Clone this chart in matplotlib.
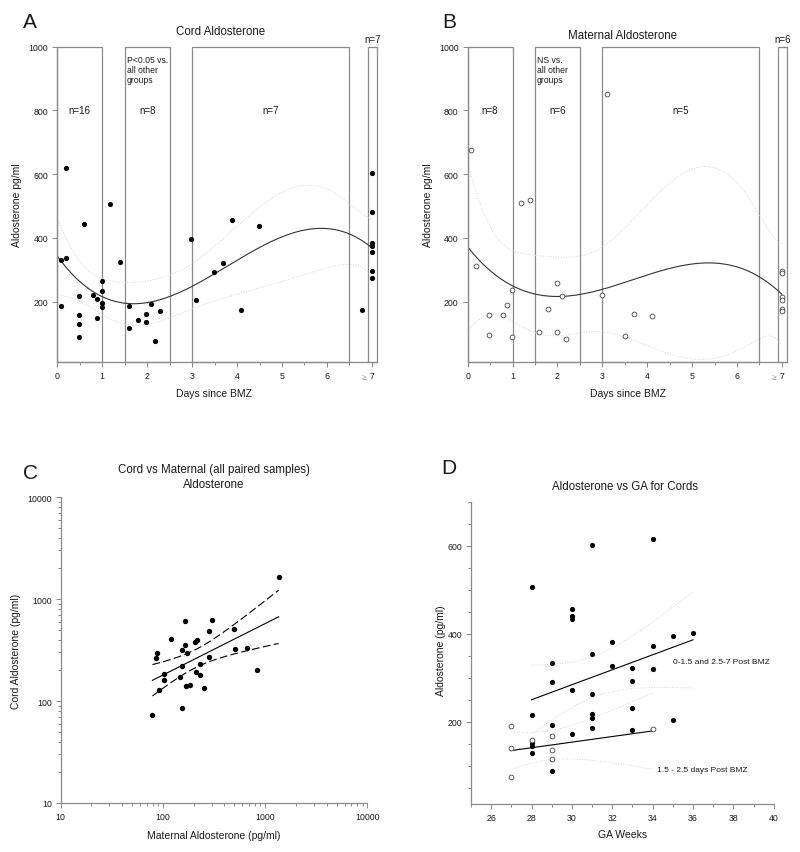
import numpy as np
import matplotlib
matplotlib.use("Agg")
import matplotlib.pyplot as plt
from matplotlib.patches import Rectangle
from matplotlib.ticker import MultipleLocator, LogLocator, NullFormatter

plt.rcParams["font.family"] = ["Liberation Sans", "DejaVu Sans"]

# ---- panel A: cord aldosterone vs days since BMZ ----
cord_days = [0.19, 0.59, 0.08, 0.19, 0.99, 0.99, 0.48, 0.79, 0.88, 0.99, 0.99, 0.08,
             0.48, 0.88, 0.48, 0.48,
             1.18, 1.39,
             1.59, 2.09, 1.98, 1.79, 1.98, 2.29, 1.59, 2.18,
             2.98, 3.08, 3.49, 3.69, 3.88, 4.48, 4.08,
             6.79,
             7.0, 7.0, 7.0, 7.0, 7.0, 7.0, 7.0]
cord_aldo = [619, 443, 330, 337, 265, 233, 219, 221, 210, 196, 183, 187,
             158, 148, 131, 89,
             508, 325,
             186, 193, 162, 143, 137, 171, 119, 78,
             398, 206, 293, 322, 458, 437, 173,
             174,
             603, 482, 383, 376, 356, 295, 274]

# ---- panel B: maternal aldosterone vs days since BMZ ----
mat_days = [0.08, 0.19, 0.48, 0.48, 0.79, 0.88, 0.99, 0.99,
            1.19, 1.39,
            1.59, 1.79, 1.99, 1.99, 2.09, 2.18,
            2.99, 3.1, 3.5, 3.7, 4.1,
            7.0, 7.0, 7.0, 7.0, 7.0, 7.0]
mat_aldo = [675, 313, 160, 97, 159, 191, 238, 90,
            510, 520,
            105, 176, 258, 105, 217, 84,
            222, 852, 93, 162, 154,
            298, 290, 215, 207, 176, 171]

group_ranges = [(0, 1), (1.5, 2.5), (3, 6.5), (6.92, 7.12)]
cord_n = ["n=16", "n=8", "n=7", "n=7"]
mat_n = ["n=8", "n=6", "n=5", "n=6"]

# ---- panel C: paired cord vs maternal ----
pair_mat = [1358, 304, 166, 497, 284, 119, 206, 216, 166, 154, 171, 508, 661, 87, 86,
            282, 231, 153, 209, 231, 102, 146, 839, 103, 168, 183, 251, 92, 154, 79]
pair_cord = [1637, 618, 604, 508, 482, 403, 378, 397, 354, 319, 294, 323, 329, 294, 262,
             272, 233, 219, 191, 180, 184, 171, 203, 160, 139, 145, 134, 128, 86, 73]

# ---- panel D: cord aldosterone vs GA ----
ga_other = [34, 31, 28, 30, 30, 30, 35, 36, 32, 34, 31, 29, 32, 33, 34, 33,
            29, 30, 31, 33, 28, 31, 31, 35, 29, 31, 30, 33, 28, 28, 28, 29]
aldo_other = [615, 601, 505, 456, 441, 434, 395, 401, 381, 372, 354, 334, 327, 322, 320, 293,
              291, 273, 263, 231, 216, 218, 208, 204, 192, 186, 171, 180, 151, 145, 128, 87]
ga_mid = [27, 28, 29, 27, 29, 29, 27, 34]
aldo_mid = [190, 159, 168, 140, 135, 114, 74, 183]

GRAY = "#8a8a8a"
TXT = "#1a1a1a"


def fit_ci(x, y, deg, xs, t):
    x = np.asarray(x, float)
    y = np.asarray(y, float)
    X = np.vander(x, deg + 1)
    beta = np.linalg.lstsq(X, y, rcond=None)[0]
    res = y - X @ beta
    s2 = res @ res / (len(x) - deg - 1)
    cov = s2 * np.linalg.inv(X.T @ X)
    Xs = np.vander(xs, deg + 1)
    yh = Xs @ beta
    se = np.sqrt(np.einsum("ij,jk,ik->i", Xs, cov, Xs))
    return yh, yh - t * se, yh + t * se


def style(ax):
    for s in ["top", "right"]:
        ax.spines[s].set_visible(False)
    for s in ["left", "bottom"]:
        ax.spines[s].set_color(GRAY)
        ax.spines[s].set_linewidth(0.9)
    ax.tick_params(which="both", direction="out", color=GRAY, labelsize=6.3,
                   labelcolor=TXT, width=0.7)
    ax.tick_params(which="major", length=3.5, pad=3)
    ax.tick_params(which="minor", length=2)


fig = plt.figure(figsize=(8, 8.53), dpi=100)
W, H = 800, 853


def axes_px(x0, y0, x1, y1):
    return fig.add_axes([x0 / W, 1 - y1 / H, (x1 - x0) / W, (y1 - y0) / H])


def days_panel(ax, xd, yd, nlabels, note, filled):
    style(ax)
    ax.set_xlim(0, 7.12)
    ax.set_ylim(12, 1000)
    for (a, b) in group_ranges:
        ax.add_patch(Rectangle((a, 12), b - a, 988, fill=False, ec=GRAY, lw=0.9,
                               clip_on=False, zorder=1))
    xs = np.linspace(0, 7, 200)
    yh, lo, hi = fit_ci(xd, yd, 3, xs, 2.03)
    ax.plot(xs, yh, color="#333333", lw=0.8, zorder=2)
    ax.plot(xs, lo, color="#d6d6d6", lw=0.7, ls=":", zorder=2)
    ax.plot(xs, hi, color="#d6d6d6", lw=0.7, ls=":", zorder=2)
    if filled:
        ax.scatter(xd, yd, s=14, c="black", zorder=3, linewidths=0)
    else:
        ax.scatter(xd, yd, s=12, facecolors="white", edgecolors="#444444",
                   linewidths=0.6, zorder=3)
    ax.set_xticks(range(8))
    ax.set_xticklabels(["0", "1", "2", "3", "4", "5", "6", "7"])
    ax.xaxis.set_minor_locator(MultipleLocator(0.5))
    ax.set_yticks([200, 400, 600, 800, 1000])
    ax.text(6.82, -38, "\u2265", fontsize=6, color="#999999", ha="center", va="center",
            clip_on=False)
    centers = [0.5, 2.0, 4.75]
    for c, lab in zip(centers, nlabels[:3]):
        ax.text(c, 800, lab, fontsize=7, ha="center", va="center", color=TXT)
    ax.text(7.02, 1010, nlabels[3], fontsize=7, ha="center", va="bottom", color=TXT,
            clip_on=False)
    ax.text(1.54, 975, note, fontsize=6.2, ha="left", va="top", color=TXT,
            linespacing=1.15)


# panel A
axA = axes_px(57.3, 47.7, 377.3, 362.7)
days_panel(axA, cord_days, cord_aldo, cord_n, "P<0.05 vs.\nall other\ngroups", True)
# panel B
axB = axes_px(467.7, 47.7, 787.3, 362.7)
days_panel(axB, mat_days, mat_aldo, mat_n, "NS vs.\nall other\ngroups", False)

fig.text(29.5 / W, 1 - 23 / H, "A", fontsize=15, ha="center", va="center", color=TXT)
fig.text(449.7 / W, 1 - 22.5 / H, "B", fontsize=15, ha="center", va="center", color=TXT)
fig.text(221 / W, 1 - 32 / H, "Cord Aldosterone", fontsize=8.3, ha="center", va="center", color=TXT)
fig.text(622.5 / W, 1 - 36 / H, "Maternal Aldosterone", fontsize=8.3, ha="center", va="center", color=TXT)
for xl in (16.7, 427.5):
    fig.text(xl / W, 1 - 205 / H, "Aldosterone pg/ml", fontsize=7.5, rotation=90,
             ha="center", va="center", color=TXT)
fig.text(214.5 / W, 1 - 394 / H, "Days since BMZ", fontsize=7.5, ha="center", va="center", color=TXT)
fig.text(628 / W, 1 - 394 / H, "Days since BMZ", fontsize=7.5, ha="center", va="center", color=TXT)

# panel C
axC = axes_px(60.7, 498, 367.3, 804)
style(axC)
axC.set_xscale("log")
axC.set_yscale("log")
axC.set_xlim(10, 10000)
axC.set_ylim(10, 10000)
lx = np.log10(pair_mat)
ly = np.log10(pair_cord)
xs = np.linspace(lx.min(), lx.max(), 100)
yh, lo, hi = fit_ci(lx, ly, 1, xs, 2.05)
axC.plot(10 ** xs, 10 ** yh, color="black", lw=0.8)
axC.plot(10 ** xs, 10 ** lo, color="black", lw=0.8, ls=(0, (7, 3)))
axC.plot(10 ** xs, 10 ** hi, color="black", lw=0.8, ls=(0, (7, 3)))
axC.scatter(pair_mat, pair_cord, s=15, c="black", linewidths=0, zorder=3)
ticks = [10, 100, 1000, 10000]
axC.set_xticks(ticks)
axC.set_xticklabels([str(t) for t in ticks])
axC.set_yticks(ticks)
axC.set_yticklabels([str(t) for t in ticks])
axC.xaxis.set_minor_locator(LogLocator(base=10, subs=np.arange(2, 10)))
axC.yaxis.set_minor_locator(LogLocator(base=10, subs=np.arange(2, 10)))
axC.xaxis.set_minor_formatter(NullFormatter())
axC.yaxis.set_minor_formatter(NullFormatter())
fig.text(30 / W, 1 - 474 / H, "C", fontsize=15, ha="center", va="center", color=TXT)
fig.text(214 / W, 1 - 464 / H, "Cord vs Maternal (all paired samples)\nAldosterone",
         fontsize=8.3, ha="center", va="top", color=TXT, linespacing=1.35)
fig.text(16 / W, 1 - 651 / H, "Cord Aldosterone (pg/ml)", fontsize=7.5, rotation=90,
         ha="center", va="center", color=TXT)
fig.text(213.5 / W, 1 - 835.7 / H, "Maternal Aldosterone (pg/ml)", fontsize=7.5,
         ha="center", va="center", color=TXT)

# panel D
axD = axes_px(471, 502.7, 773.7, 805.3)
style(axD)
axD.set_xlim(25, 40)
axD.set_ylim(12, 700)
xs = np.linspace(28, 36, 100)
yh, lo, hi = fit_ci(ga_other, aldo_other, 1, xs, 2.04)
axD.plot(xs, yh, color="black", lw=0.8)
axD.plot(xs, lo, color="#d6d6d6", lw=0.7, ls=":")
axD.plot(xs, hi, color="#d6d6d6", lw=0.7, ls=":")
xs = np.linspace(27, 34, 100)
yh, lo, hi = fit_ci(ga_mid, aldo_mid, 1, xs, 2.447)
axD.plot(xs, yh, color="black", lw=0.8)
axD.plot(xs, lo, color="#d6d6d6", lw=0.7, ls=":")
axD.plot(xs, hi, color="#d6d6d6", lw=0.7, ls=":")
axD.scatter(ga_other, aldo_other, s=14, c="black", linewidths=0, zorder=3)
axD.scatter(ga_mid, aldo_mid, s=12, facecolors="white", edgecolors="#444444",
            linewidths=0.6, zorder=3)
axD.set_xticks(range(26, 41, 2))
axD.xaxis.set_minor_locator(MultipleLocator(1))
axD.set_yticks([200, 400, 600])
axD.yaxis.set_minor_locator(MultipleLocator(50))
axD.text(35, 337, "0-1.5 and 2.5-7 Post BMZ", fontsize=6, ha="left", va="center", color=TXT)
axD.text(34.2, 91, "1.5 - 2.5 days Post BMZ", fontsize=6, ha="left", va="center", color=TXT)
fig.text(449 / W, 1 - 469 / H, "D", fontsize=15, ha="center", va="center", color=TXT)
fig.text(625 / W, 1 - 487.3 / H, "Aldosterone vs GA for Cords", fontsize=8.3,
         ha="center", va="center", color=TXT)
fig.text(441 / W, 1 - 651 / H, "Aldosterone (pg/ml)", fontsize=7.5, rotation=90,
         ha="center", va="center", color=TXT)
fig.text(622.8 / W, 1 - 834.7 / H, "GA Weeks", fontsize=7.5, ha="center", va="center", color=TXT)

fig.savefig("out.png", dpi=100)
